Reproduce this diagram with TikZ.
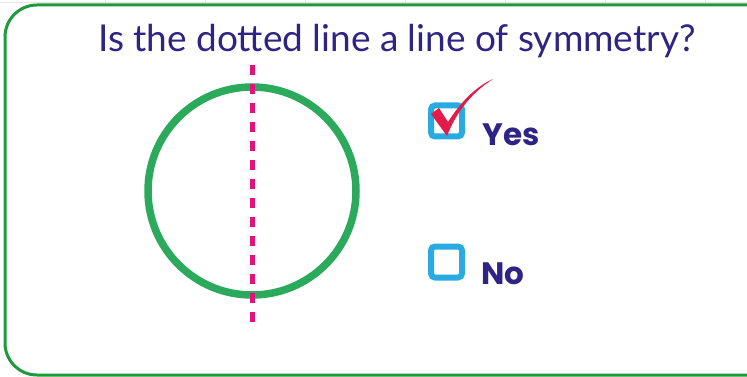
\documentclass[tikz,border=0pt]{standalone}
\usepackage{fontspec}
\setmainfont{Lato}
\newfontfamily\answerfont{Poppins}
\definecolor{framegreen}{HTML}{1E9A3C}
\definecolor{circgreen}{HTML}{2BAA5C}
\definecolor{magenta}{HTML}{E0137A}
\definecolor{txtpurple}{HTML}{2E2483}
\definecolor{boxblue}{HTML}{29ABE2}
\definecolor{tickred}{HTML}{E31B4B}
\definecolor{gridgray}{HTML}{E4E4EA}
\begin{document}
\begin{tikzpicture}[x=1pt,y=-1pt,
  chkbox/.style={draw=boxblue,line width=6pt,rounded corners=4pt,minimum width=31pt,minimum height=31pt,inner sep=0pt},
  answer/.style={text=txtpurple,font=\answerfont\fontsize{31}{34}\selectfont\bfseries,anchor=base west,inner sep=0pt}]
\useasboundingbox (0,0) rectangle (747,377);
\fill[white] (0,0) rectangle (747,377);
% faint grid at top
\foreach \x in {105,205,305,405,505,605,705} \draw[gridgray,line width=0.8pt] (\x,0) -- (\x,6);
\draw[gridgray,line width=0.8pt] (0,2) -- (747,2);
% frame
\draw[framegreen,line width=3pt,rounded corners=32pt] (760,5) -- (5,5) -- (5,375) -- (760,375);
% title
\node[text=txtpurple,font=\fontsize{37}{40}\selectfont,anchor=base,inner sep=0pt] (title) at (397,52) {Is the dotted line a line of symmetry?};
% circle
\node[draw=circgreen,line width=7.5pt,circle,minimum size=208pt,inner sep=0pt] (circ) at (252,191) {};
% symmetry line
\coordinate (ltop) at (252,65);
\coordinate (lbot) at (252,325);
\draw[magenta,line width=5pt,dash pattern=on 10pt off 9pt] (ltop) -- (lbot);
% yes box
\node[chkbox] (yesbox) at (446.5,121) {};
\node[answer] (yes) at (482,146) {Yes};
\fill[tickred] (493,79) .. controls (470,94) and (456,113) .. (447,136) -- (431,114) -- (439,108) -- (448,122) .. controls (460,103) and (475,87) .. (493,79) -- cycle;
% no box
\node[chkbox] (nobox) at (446.5,262) {};
\node[answer] (no) at (481,284) {No};
\end{tikzpicture}
\end{document}
